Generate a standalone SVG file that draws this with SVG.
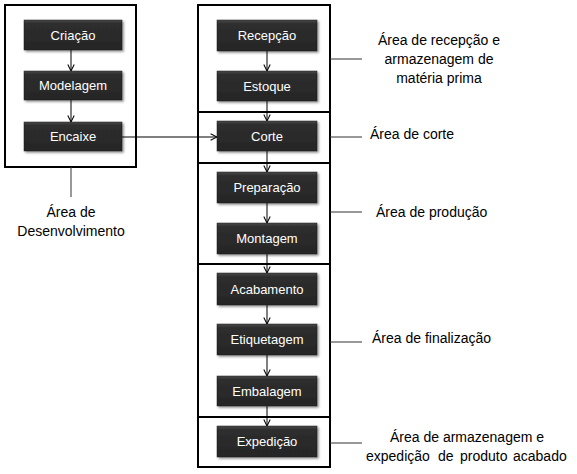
<svg xmlns="http://www.w3.org/2000/svg" width="577" height="474" viewBox="0 0 577 474">
<defs>
<linearGradient id="g" x1="0" y1="0" x2="0" y2="1">
<stop offset="0" stop-color="#4a4a4a"/>
<stop offset="0.12" stop-color="#2e2e2e"/>
<stop offset="1" stop-color="#262626"/>
</linearGradient>
<filter id="sh" x="-10%" y="-20%" width="130%" height="160%">
<feDropShadow dx="1.5" dy="1.5" stdDeviation="1.2" flood-color="#000" flood-opacity="0.45"/>
</filter>
<marker id="ah" viewBox="0 0 10 10" refX="9" refY="5" markerWidth="8" markerHeight="8" markerUnits="userSpaceOnUse" orient="auto">
<path d="M1,1 L9,5 L1,9" fill="none" stroke="#000" stroke-width="1.3"/>
</marker>
</defs>
<style>
.box{fill:none;stroke:#000;stroke-width:2}
.node rect{fill:url(#g);stroke:#1a1a1a;stroke-width:0.5;filter:url(#sh)}
.node text{fill:#fff;font-family:"Liberation Sans",Arial,sans-serif;font-size:13px;text-anchor:middle}
.lbl{fill:#000;font-family:"Liberation Sans",Arial,sans-serif;font-size:14px}
.c{text-anchor:middle}
.conn line{stroke:#000;stroke-width:1}
.ln line{stroke:#333;stroke-width:1}
</style>
<rect width="577" height="474" fill="#fff"/>
<g id="areas">
<rect class="box" x="5" y="5" width="131" height="162"/>
<rect class="box" x="198" y="5" width="132" height="462"/>
<line x1="198" y1="112" x2="330" y2="112" stroke="#000" stroke-width="2"/>
<line x1="198" y1="163" x2="330" y2="163" stroke="#000" stroke-width="2"/>
<line x1="198" y1="264" x2="330" y2="264" stroke="#000" stroke-width="2"/>
<line x1="198" y1="417" x2="330" y2="417" stroke="#000" stroke-width="2"/>
</g>
<g class="conn" id="connectors">
<line x1="71" y1="50" x2="71" y2="71" marker-end="url(#ah)"/>
<line x1="71" y1="100" x2="71" y2="122" marker-end="url(#ah)"/>
<line x1="122" y1="137" x2="217" y2="137" marker-end="url(#ah)"/>
<line x1="267" y1="51" x2="267" y2="71" marker-end="url(#ah)"/>
<line x1="267" y1="101" x2="267" y2="121" marker-end="url(#ah)"/>
<line x1="267" y1="151" x2="267" y2="172" marker-end="url(#ah)"/>
<line x1="267" y1="203" x2="267" y2="223" marker-end="url(#ah)"/>
<line x1="267" y1="254" x2="267" y2="273" marker-end="url(#ah)"/>
<line x1="267" y1="305" x2="267" y2="324" marker-end="url(#ah)"/>
<line x1="267" y1="355" x2="267" y2="376" marker-end="url(#ah)"/>
<line x1="267" y1="406" x2="267" y2="426" marker-end="url(#ah)"/>
</g>
<g class="ln" id="label-lines">
<line x1="71" y1="167" x2="71" y2="197"/>
<line x1="330" y1="59" x2="362" y2="59"/>
<line x1="330" y1="137" x2="362" y2="137"/>
<line x1="330" y1="212" x2="362" y2="212"/>
<line x1="330" y1="342" x2="362" y2="342"/>
<line x1="330" y1="443" x2="362" y2="443"/>
</g>
<g class="node" id="criacao"><rect x="24" y="20" width="98" height="30"/><text x="73" y="40">Criação</text></g>
<g class="node" id="modelagem"><rect x="24" y="71" width="98" height="29"/><text x="73" y="90">Modelagem</text></g>
<g class="node" id="encaixe"><rect x="24" y="122" width="98" height="29"/><text x="73" y="141">Encaixe</text></g>
<g class="node" id="recepcao"><rect x="217" y="20" width="100" height="31"/><text x="267" y="40">Recepção</text></g>
<g class="node" id="estoque"><rect x="217" y="71" width="100" height="30"/><text x="267" y="91">Estoque</text></g>
<g class="node" id="corte"><rect x="217" y="121" width="100" height="30"/><text x="267" y="141">Corte</text></g>
<g class="node" id="preparacao"><rect x="217" y="172" width="100" height="31"/><text x="267" y="192">Preparação</text></g>
<g class="node" id="montagem"><rect x="217" y="223" width="100" height="31"/><text x="267" y="243">Montagem</text></g>
<g class="node" id="acabamento"><rect x="217" y="273" width="100" height="32"/><text x="267" y="294">Acabamento</text></g>
<g class="node" id="etiquetagem"><rect x="217" y="324" width="100" height="31"/><text x="267" y="344">Etiquetagem</text></g>
<g class="node" id="embalagem"><rect x="217" y="376" width="100" height="30"/><text x="267" y="396">Embalagem</text></g>
<g class="node" id="expedicao"><rect x="217" y="426" width="100" height="31"/><text x="267" y="446">Expedição</text></g>
<g id="labels">
<text class="lbl c" x="71" y="217">Área de</text>
<text class="lbl c" x="71" y="236">Desenvolvimento</text>
<text class="lbl c" x="439" y="45">Área de recepção e</text>
<text class="lbl c" x="439" y="64">armazenagem de</text>
<text class="lbl c" x="439" y="83">matéria prima</text>
<text class="lbl" x="370" y="139">Área de corte</text>
<text class="lbl" x="376" y="217">Área de produção</text>
<text class="lbl" x="372" y="343">Área de finalização</text>
<text class="lbl c" x="467" y="442">Área de armazenagem e</text>
<text class="lbl" y="461"><tspan x="366">expedição</tspan><tspan x="438">de</tspan><tspan x="460">produto</tspan><tspan x="513">acabado</tspan></text>
</g>
</svg>
